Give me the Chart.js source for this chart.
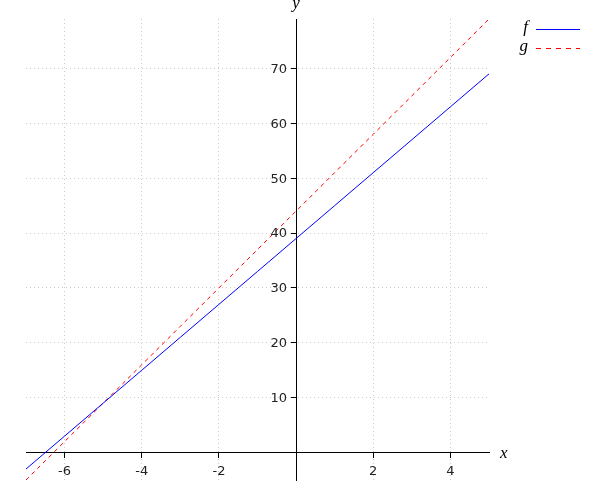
<!DOCTYPE html>
<html>
<head>
<meta charset="utf-8">
<script src="https://cdn.jsdelivr.net/npm/chart.js@4/dist/chart.umd.min.js"></script>
<style>
html,body{margin:0;padding:0;background:#fff;}
#wrap{width:600px;height:500px;}
</style>
</head>
<body>
<div id="wrap"><canvas id="c" width="600" height="500"></canvas></div>
<script>
const xValues = [-7, -6, -5, -4, -3, -2, -1, 0, 1, 2, 3, 4, 5];
const fValues = [-3, 3, 9, 15, 21, 27, 33, 39, 45, 51, 57, 63, 69];
const gValues = [-5, 2, 9, 16, 23, 30, 37, 44, 51, 58, 65, 72, 79];
const xTicks = [-6, -4, -2, 2, 4];
const yTicks = [10, 20, 30, 40, 50, 60, 70];
const seriesNames = ['f', 'g'];
const seriesColors = ['#0000ff', '#ff0000'];
const seriesDash = [[], [4, 4]];

const toPts = ys => xValues.map((x, i) => ({x: x, y: ys[i]}));

const bg = {
  id: 'bg',
  beforeDraw(chart) {
    const ctx = chart.ctx;
    ctx.save();
    ctx.fillStyle = '#ffffff';
    ctx.fillRect(0, 0, chart.width, chart.height);
    ctx.restore();
  }
};

const decor = {
  id: 'decor',
  afterDraw(chart) {
    const ctx = chart.ctx;
    const xs = chart.scales.x, ys = chart.scales.y;
    const x0 = xs.getPixelForValue(0);
    ctx.save();
    // y tick labels, right of the tick marks
    ctx.fillStyle = '#222';
    ctx.font = '13px "DejaVu Sans"';
    ctx.textAlign = 'right';
    ctx.textBaseline = 'middle';
    ys.ticks.forEach(t => {
      ctx.fillText(String(t.value), x0 - 9, ys.getPixelForValue(t.value) + 1);
    });
    // axis titles
    ctx.fillStyle = '#000';
    ctx.font = 'italic 17px "Liberation Serif"';
    ctx.textAlign = 'left';
    ctx.fillText('x', xs.right + 11, ys.getPixelForValue(0) + 1);
    ctx.textAlign = 'center';
    ctx.fillText('y', x0, ys.top - 15);
    // legend (label then line sample)
    const lx = 528, ly0 = 29, step = 19;
    seriesNames.forEach((name, i) => {
      const y = ly0 + i * step;
      ctx.textAlign = 'right';
      ctx.fillStyle = '#000';
      ctx.fillText(name, lx, y - 1);
      ctx.strokeStyle = seriesColors[i];
      ctx.lineWidth = 1;
      ctx.setLineDash(i === 1 ? [5, 5] : []);
      ctx.beginPath();
      ctx.moveTo(536, y + 0.5);
      ctx.lineTo(580, y + 0.5);
      ctx.stroke();
    });
    ctx.restore();
  }
};

new Chart(document.getElementById('c'), {
  type: 'line',
  data: {
    datasets: seriesNames.map((name, i) => ({
      label: name,
      data: toPts(i === 0 ? fValues : gValues),
      borderColor: seriesColors[i],
      backgroundColor: seriesColors[i],
      borderWidth: 1,
      borderDash: seriesDash[i],
      pointRadius: 0,
      fill: false,
      tension: 0
    }))
  },
  options: {
    responsive: false,
    animation: false,
    layout: {padding: {left: 26, right: 111, top: 19, bottom: 20}},
    plugins: {legend: {display: false}, tooltip: {enabled: false}},
    scales: {
      x: {
        type: 'linear',
        min: -7, max: 5,
        position: {y: 0},
        afterBuildTicks: s => { s.ticks = xTicks.map(v => ({value: v})); },
        grid: {color: '#cccccc', lineWidth: 1, tickColor: '#000', tickLength: 5, drawTicks: true},
        border: {display: true, color: '#000', width: 1, dash: [1, 3]},
        ticks: {color: '#222', font: {family: 'DejaVu Sans', size: 13}, padding: 6, maxRotation: 0, autoSkip: false}
      },
      y: {
        type: 'linear',
        min: -5, max: 79,
        position: {x: 0},
        afterBuildTicks: s => { s.ticks = yTicks.map(v => ({value: v})); },
        grid: {color: '#cccccc', lineWidth: 1, tickColor: '#000', tickLength: 5, drawTicks: true},
        border: {display: true, color: '#000', width: 1, dash: [1, 3]},
        ticks: {color: 'rgba(0,0,0,0)', font: {family: 'DejaVu Sans', size: 13}, autoSkip: false}
      }
    }
  },
  plugins: [bg, decor]
});
</script>
</body>
</html>
